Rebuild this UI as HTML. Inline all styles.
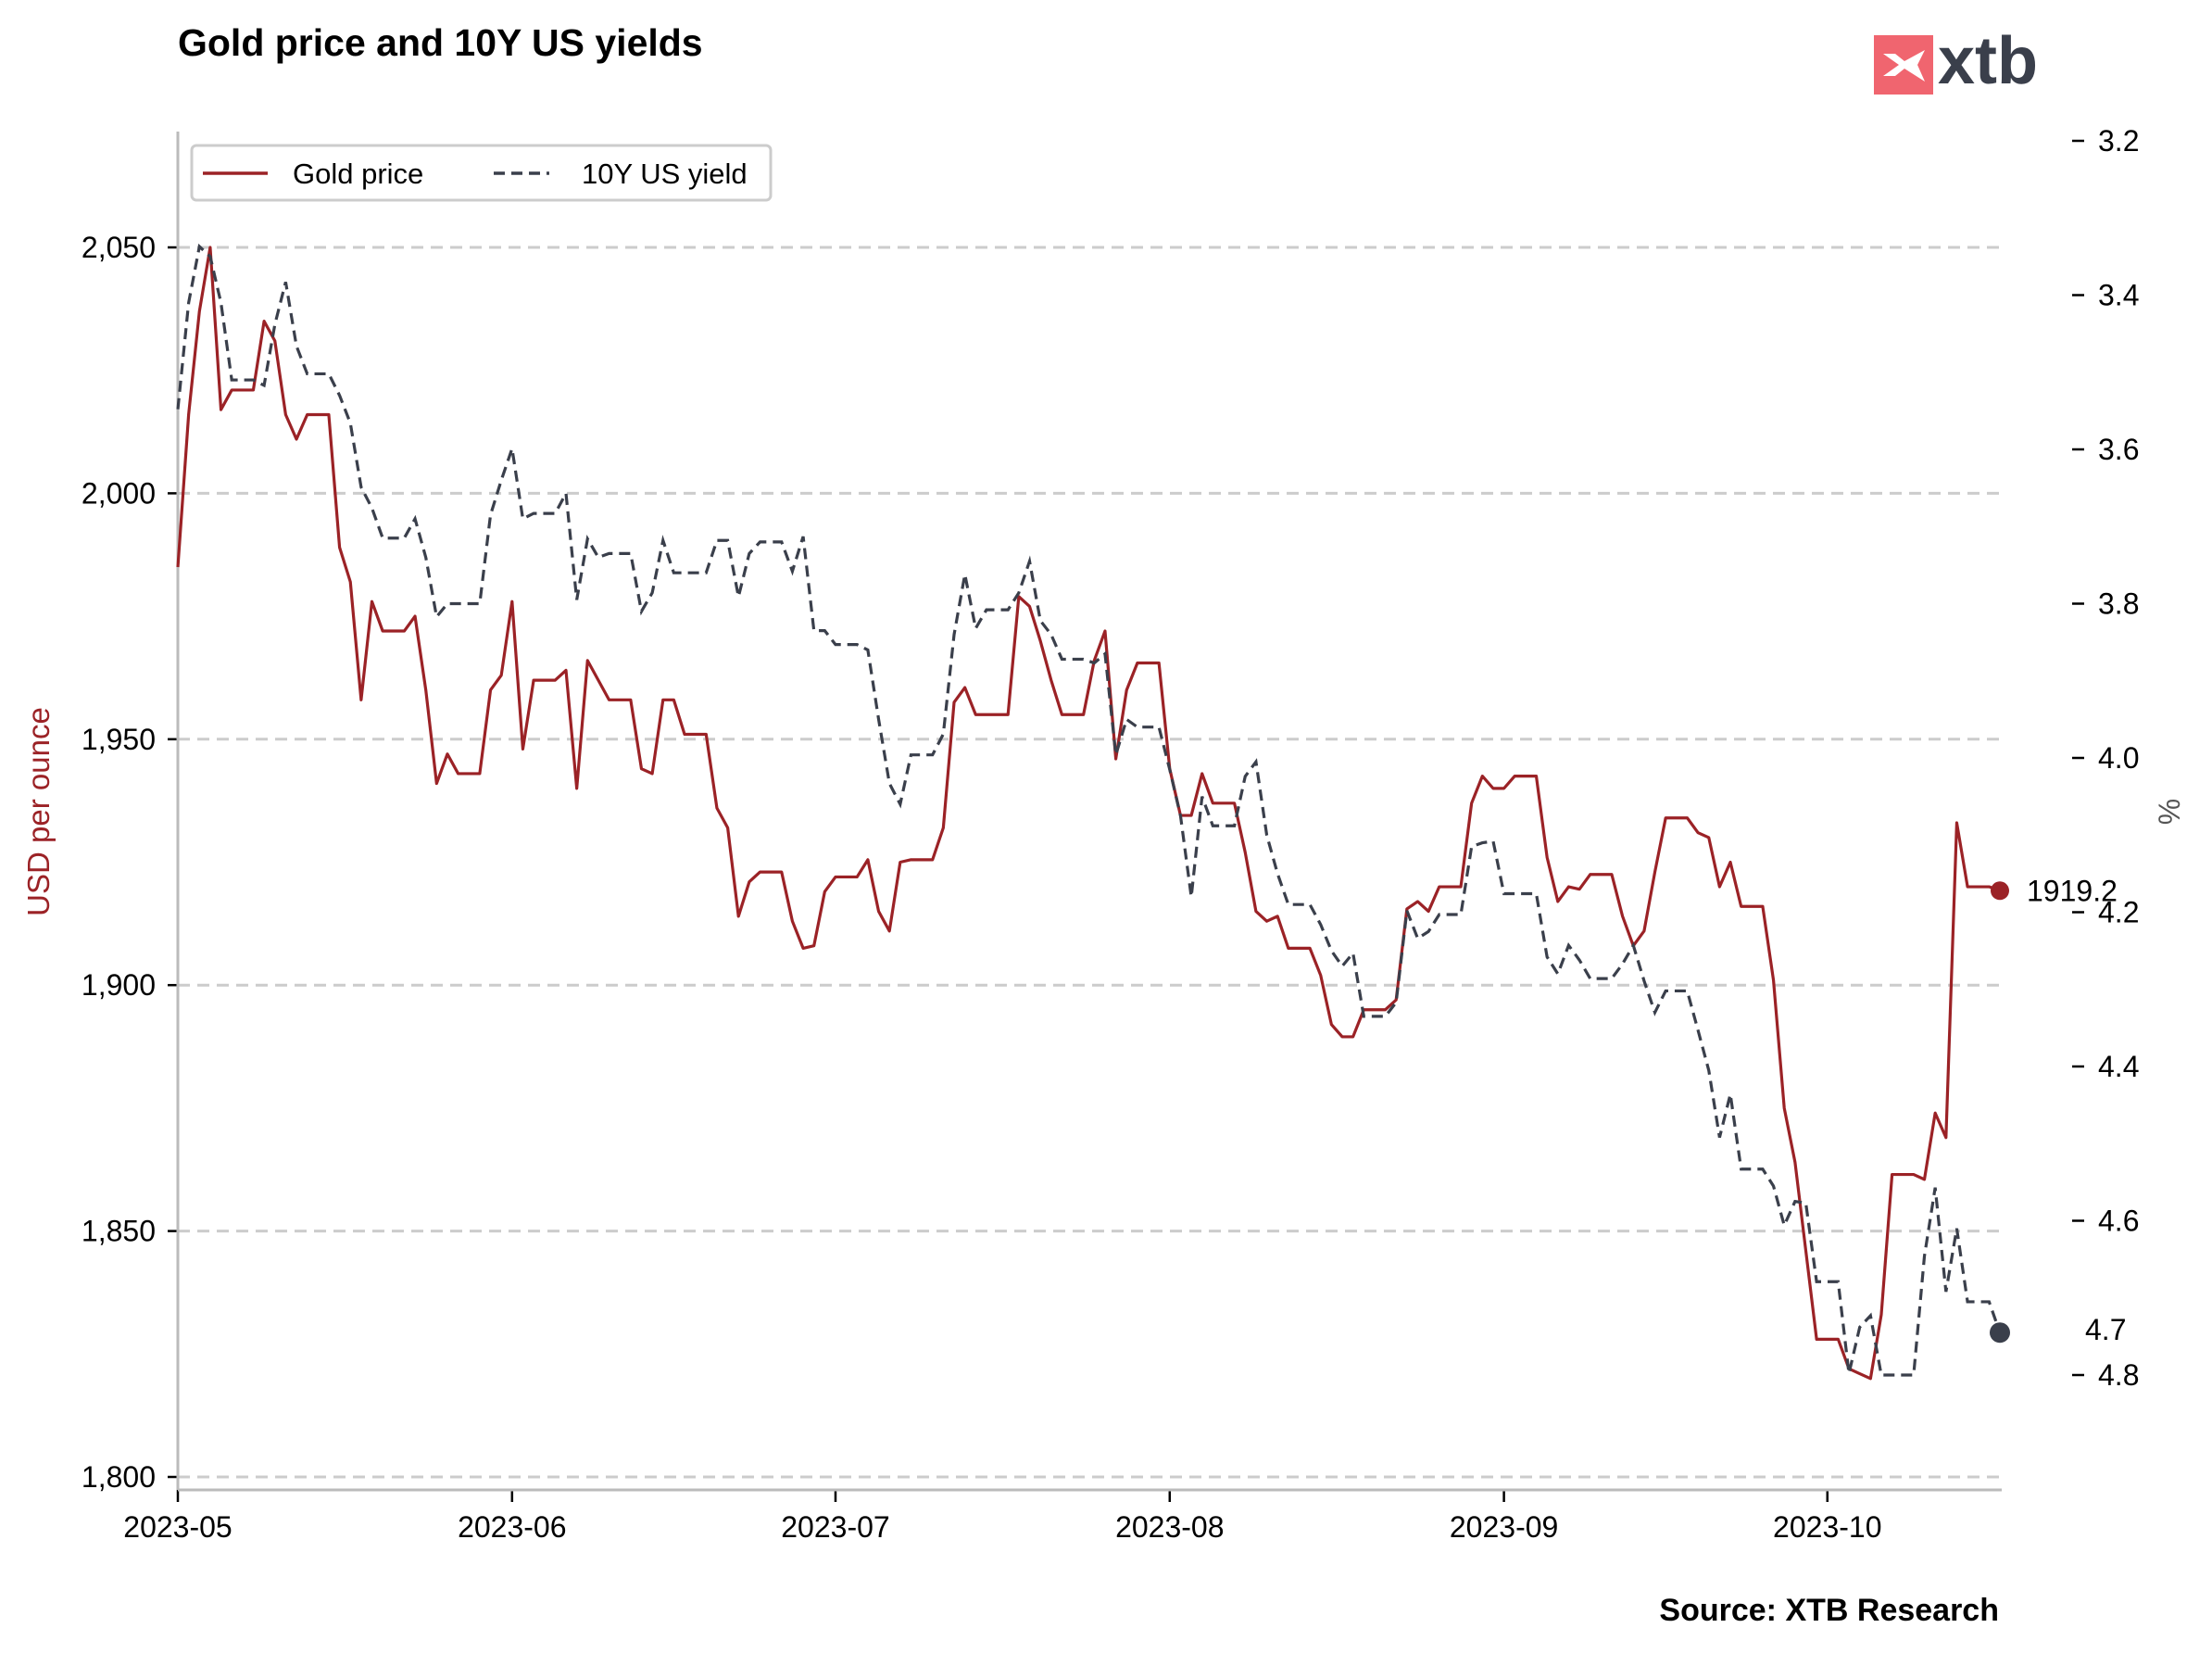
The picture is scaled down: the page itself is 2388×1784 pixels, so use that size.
<!DOCTYPE html>
<html><head><meta charset="utf-8"><style>
html,body{margin:0;padding:0;background:#fff}
svg{display:block}
text{font-family:"Liberation Sans",Arial,sans-serif}
</style></head><body>
<svg id="chart" width="2388" height="1784" viewBox="0 0 2388 1784" xmlns="http://www.w3.org/2000/svg">
<text x="192" y="60" font-size="41" font-weight="bold" fill="#000">Gold price and 10Y US yields</text>
<g>
<rect x="2023" y="38" width="64" height="64" fill="#f0656f"/>
<path d="M2033 58 L2050 70 L2033 82 L2046 82 L2056 74 L2078 88 L2070 70 L2078 54 L2056 66 L2046 58 Z" fill="#fff"/>
<text x="2092" y="90" font-size="72" font-weight="bold" fill="#3a3f4b">xtb</text>
</g>
<g id="grid"></g>
<g id="axes"></g>
<g id="series"></g>
<g>
<rect x="207" y="157" width="625" height="59" rx="5" fill="#fff" stroke="#ccc" stroke-width="3"/>
<line x1="219" y1="187" x2="289" y2="187" stroke="#9b2226" stroke-width="3.5"/>
<text x="316" y="198" font-size="31" fill="#000">Gold price</text>
<line x1="533" y1="187" x2="593" y2="187" stroke="#3a3f4b" stroke-width="3.5" stroke-dasharray="12,7"/>
<text x="628" y="198" font-size="31" fill="#000">10Y US yield</text>
</g>
<text transform="translate(53,876) rotate(-90)" text-anchor="middle" font-size="33" fill="#9b2226">USD per ounce</text>
<text transform="translate(2353,876) rotate(-90)" text-anchor="middle" font-size="32" fill="#555">%</text>
<text x="2158" y="1749" text-anchor="end" font-size="34" font-weight="bold" fill="#000">Source: XTB Research</text>
</svg>
<script>
const goldDays=[0,1,2,3,4,5,7,8,9,10,11,12,14,15,16,17,18,19,21,22,23,24,25,26,28,29,30,31,32,33,35,36,37,38,39,40,42,43,44,45,46,47,49,50,51,52,53,54,56,57,58,59,60,61,63,64,65,66,67,68,70,71,72,73,74,77,78,79,80,81,82,84,85,86,87,88,89,91,92,93,94,95,96,98,99,100,101,102,103,105,106,107,108,109,110,112,113,114,115,116,117,119,120,121,122,123,124,126,127,128,129,130,131,133,134,135,136,137,138,140,141,142,143,144,145,147,148,149,150,151,152,154,155,156,157,158,159,161,162,163,164,165,166,168,169];
const goldValues=[1985,2016,2037,2050,2017,2021,2021,2035,2031,2016,2011,2016,2016,1989,1982,1958,1978,1972,1972,1975,1960,1941,1947,1943,1943,1960,1963,1978,1948,1962,1962,1964,1940,1966,1962,1958,1958,1944,1943,1958,1958,1951,1951,1936,1932,1914,1921,1923,1923,1913,1907.5,1908,1919,1922,1922,1925.5,1915,1911,1925,1925.5,1925.5,1932,1957.5,1960.5,1955,1955,1979,1977,1970,1962,1955,1955,1966,1972,1946,1960,1965.5,1965.5,1944,1934.5,1934.5,1943,1937,1937,1927,1915,1913,1914,1907.5,1907.5,1902,1892,1889.5,1889.5,1895,1895,1897,1915.5,1917,1915,1920,1920,1937,1942.5,1940,1940,1942.5,1942.5,1926,1917,1920,1919.5,1922.5,1922.5,1914,1908,1911,1923,1934,1934,1931,1930,1920,1925,1916,1916,1901,1875,1864,1846,1828,1828,1822,1821,1820,1833,1861.5,1861.5,1860.5,1874,1869,1933,1920,1920,1919.2];
const yieldDays=[0,1,2,3,4,5,6,7,8,9,10,11,12,14,15,16,17,18,19,21,22,23,24,25,26,28,29,30,31,32,33,35,36,37,38,39,40,42,43,44,45,46,47,49,50,51,52,53,54,56,57,58,59,60,61,63,64,65,66,67,68,70,71,72,73,74,75,77,78,79,80,81,82,84,85,86,87,88,89,91,92,93,94,95,96,98,99,100,101,102,103,105,106,107,108,109,110,112,113,114,115,116,117,119,120,121,122,123,124,126,127,128,129,130,131,133,134,135,136,137,138,140,141,142,143,144,145,147,148,149,150,151,152,154,155,156,157,158,161,162,163,164,165,166,168,169];
const yieldValues=[3.548,3.41,3.337,3.35,3.41,3.51,3.51,3.51,3.517,3.438,3.383,3.466,3.502,3.502,3.53,3.566,3.649,3.676,3.715,3.715,3.69,3.74,3.817,3.80,3.80,3.80,3.685,3.64,3.599,3.69,3.683,3.683,3.657,3.795,3.716,3.74,3.735,3.735,3.81,3.786,3.718,3.76,3.76,3.76,3.718,3.718,3.791,3.735,3.72,3.72,3.758,3.713,3.835,3.835,3.853,3.853,3.86,3.95,4.033,4.06,3.996,3.996,3.969,3.84,3.762,3.832,3.808,3.808,3.786,3.745,3.822,3.84,3.872,3.872,3.877,3.865,3.996,3.95,3.96,3.96,4.015,4.075,4.18,4.05,4.088,4.088,4.024,4.005,4.1,4.15,4.19,4.19,4.216,4.25,4.27,4.253,4.335,4.335,4.317,4.198,4.234,4.225,4.203,4.203,4.115,4.11,4.108,4.176,4.176,4.176,4.258,4.28,4.243,4.262,4.286,4.286,4.267,4.243,4.289,4.33,4.302,4.302,4.353,4.405,4.492,4.436,4.533,4.533,4.555,4.606,4.575,4.577,4.679,4.679,4.798,4.738,4.723,4.8,4.8,4.646,4.557,4.692,4.61,4.705,4.705,4.745];
const goldTicks=[1800,1850,1900,1950,2000,2050];
const goldTickLabels=["1,800","1,850","1,900","1,950","2,000","2,050"];
const yieldTicks=[3.2,3.4,3.6,3.8,4.0,4.2,4.4,4.6,4.8];
const yieldTickLabels=["3.2","3.4","3.6","3.8","4.0","4.2","4.4","4.6","4.8"];
const monthDays=[0,31,61,92,123,153];
const monthLabels=["2023-05","2023-06","2023-07","2023-08","2023-09","2023-10"];
const lastGoldLabel="1919.2";
const lastYieldLabel="4.7";

const NS="http://www.w3.org/2000/svg";
const X0=192,X1=2159,DMAX=169,BOTTOM=1608;
const xS=d=>X0+(d/DMAX)*(X1-X0);
const yG=v=>267+(2050-v)/50*265.4;
const yY=v=>152+(v-3.2)/0.2*166.5;
function mk(tag,attrs,parent){const e=document.createElementNS(NS,tag);for(const k in attrs)e.setAttribute(k,attrs[k]);parent.appendChild(e);return e;}
const grid=document.getElementById('grid'),axes=document.getElementById('axes'),series=document.getElementById('series');

goldTicks.forEach((t,i)=>{
  const g=mk('line',{x1:X0,x2:X1,y1:yG(t),y2:yG(t),stroke:'#cccccc','stroke-width':3,'stroke-dasharray':'13,8'},grid);
  
  
  const tk=mk('line',{x1:X0-11,x2:X0,y1:yG(t),y2:yG(t),stroke:'#000','stroke-width':2.5},axes);
  
  
  const lb=mk('text',{x:X0-24,y:yG(t)+11,'text-anchor':'end','font-size':32,fill:'#000'},axes);
  lb.textContent=goldTickLabels[i];
  
  
});
yieldTicks.forEach((t,i)=>{
  const tk=mk('line',{x1:2237,x2:2250,y1:yY(t),y2:yY(t),stroke:'#000','stroke-width':2.5},axes);
  
  
  const lb=mk('text',{x:2265,y:yY(t)+11,'font-size':32,fill:'#000'},axes);
  lb.textContent=yieldTickLabels[i];
  
  
});
monthDays.forEach((d,i)=>{
  const tk=mk('line',{x1:xS(d),x2:xS(d),y1:BOTTOM,y2:BOTTOM+13,stroke:'#000','stroke-width':2.5},axes);
  
  
  const lb=mk('text',{x:xS(d),y:BOTTOM+51,'text-anchor':'middle','font-size':32,fill:'#000'},axes);
  lb.textContent=monthLabels[i];
  
  
});
const ls=mk('line',{x1:X0,x2:X0,y1:142,y2:BOTTOM,stroke:'#bbbbbb','stroke-width':3},axes);


const bs=mk('line',{x1:X0,x2:X1+2,y1:BOTTOM,y2:BOTTOM,stroke:'#bbbbbb','stroke-width':3},axes);



const gp=mk('polyline',{points:goldDays.map((d,i)=>xS(d)+','+yG(goldValues[i])).join(' '),fill:'none',stroke:'#9b2226','stroke-width':3.2,'stroke-linejoin':'round'},series);


const yp=mk('polyline',{points:yieldDays.map((d,i)=>xS(d)+','+yY(yieldValues[i])).join(' '),fill:'none',stroke:'#3a3f4b','stroke-width':3.2,'stroke-dasharray':'12,7'},series);



const gl=goldDays.length-1,yl=yieldDays.length-1;
const gd=mk('circle',{cx:xS(goldDays[gl]),cy:yG(goldValues[gl]),r:10,fill:'#9b2226'},series);


const gt=mk('text',{x:xS(goldDays[gl])+29,y:yG(goldValues[gl])+11,'font-size':32,fill:'#000'},series);
gt.textContent=lastGoldLabel;


const yd=mk('circle',{cx:xS(yieldDays[yl]),cy:yY(yieldValues[yl]),r:11,fill:'#3a3f4b'},series);


const yt=mk('text',{x:xS(yieldDays[yl])+92,y:yY(yieldValues[yl])+8,'font-size':32,fill:'#000'},series);
yt.textContent=lastYieldLabel;


</script>
</body></html>
